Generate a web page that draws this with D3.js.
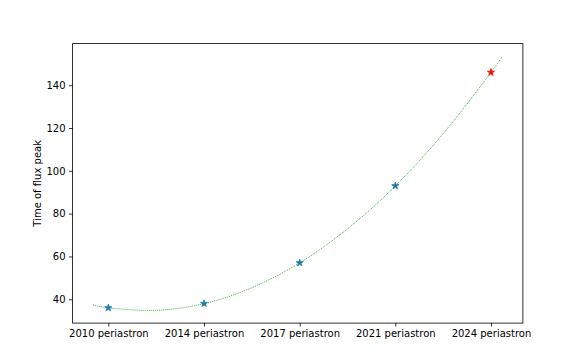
<!DOCTYPE html>
<html>
<head>
<meta charset="utf-8">
<script src="https://cdnjs.cloudflare.com/ajax/libs/d3/7.8.5/d3.min.js"></script>
<style>
  body { margin: 0; background: #fff; }
  text { font-family: "DejaVu Sans", sans-serif; }
</style>
</head>
<body>
<div id="chart"></div>
<script>
// periastron passages (plotted at index positions)
const periastrons = ["2010 periastron", "2014 periastron", "2017 periastron", "2021 periastron", "2024 periastron"];
const peakTimes = [36, 38, 57, 93, 146];
const yTicks = [40, 60, 80, 100, 120, 140];

// fitted trend (x = periastron index)
const trendX = [-0.16, 0, 0.4, 0.8, 1.2, 1.6, 2.0, 2.4, 2.8, 3.2, 3.6, 4.0, 4.12];
const trendY = [37.3, 36, 34.8, 36.2, 40.4, 47.4, 57, 69.4, 84.4, 102.2, 122.8, 146, 153.5];

const W = 581, H = 363;
const margin = { top: 43.6, right: 58.1, bottom: 39.9, left: 72.6 };

const svg = d3.select("#chart").append("svg")
  .attr("width", W)
  .attr("height", H);

// 5% padding like matplotlib autoscale
const xExt = d3.extent(trendX), yExt = d3.extent(trendY);
const xPad = (xExt[1] - xExt[0]) * 0.05, yPad = (yExt[1] - yExt[0]) * 0.05;

let x = d3.scaleLinear()
  .domain([xExt[0] - xPad, xExt[1] + xPad])
  .range([margin.left, W - margin.right]);

let y = d3.scaleLinear()
  .domain([yExt[0] - yPad, yExt[1] + yPad])
  .range([H - margin.bottom, margin.top]);

// Axes

let xAxis = svg.append("g")
  .attr("transform", "translate(0," + (H - margin.bottom) + ")")
  .call(d3.axisBottom(x)
    .tickValues(d3.range(periastrons.length))
    .tickFormat(i => periastrons[i])
    .tickSizeOuter(0)
    .tickSize(3.5)
    .tickPadding(3.5));

let yAxis = svg.append("g")
  .attr("transform", "translate(" + margin.left + ",0)")
  .call(d3.axisLeft(y)
    .tickValues(yTicks)
    .tickSizeOuter(0)
    .tickSize(3.5)
    .tickPadding(3.5));

svg.selectAll(".domain").remove();
svg.selectAll(".tick line").attr("stroke", "#000").attr("stroke-width", 0.8);
svg.selectAll(".tick text").style("font-size", "10px").attr("fill", "#000");

// Frame
svg.append("rect")
  .attr("x", margin.left)
  .attr("y", margin.top)
  .attr("width", W - margin.left - margin.right)
  .attr("height", H - margin.top - margin.bottom)
  .attr("fill", "none")
  .attr("stroke", "#000")
  .attr("stroke-width", 0.8);

// Markers

const star = d3.symbol().type(d3.symbolStar).size(16);

svg.selectAll(".pt")
  .data(peakTimes)
  .enter()
  .append("path")
  .attr("class", "pt")
  .attr("d", star)
  .attr("transform", (d, i) => "translate(" + x(i) + "," + y(d) + ")")
  .attr("fill", (d, i) => i === peakTimes.length - 1 ? "#ff0000" : "#1f77b4")
  .attr("stroke", (d, i) => i === peakTimes.length - 1 ? "#ff0000" : "#1f77b4")
  .attr("stroke-width", 0.8);

// Trend line

svg.append("path")
  .datum(trendX.map((v, i) => [v, trendY[i]]))
  .attr("d", d3.line()
    .curve(d3.curveNatural)
    .x(d => x(d[0]))
    .y(d => y(d[1])))
  .attr("fill", "none")
  .attr("stroke", "#1a9a1a")
  .attr("stroke-width", 0.9)
  .attr("stroke-dasharray", "0.9,1.1");

// Axis label

svg.append("text")
  .attr("transform", "rotate(-90)")
  .attr("x", -(margin.top + (H - margin.top - margin.bottom) / 2))
  .attr("y", 37.5)
  .attr("dy", "0.35em")
  .style("text-anchor", "middle")
  .style("font-size", "10px")
  .text("Time of flux peak");
</script>
</body>
</html>
